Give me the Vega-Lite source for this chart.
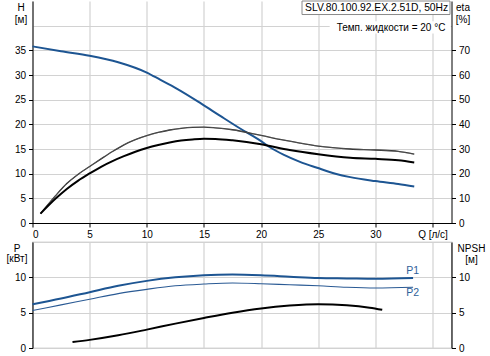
{
  "$schema": "https://vega.github.io/schema/vega-lite/v6.json",
  "padding": {"left": 4.5, "right": 0, "top": 0, "bottom": 0},
  "spacing": 19,
  "bounds": "flush",
  "background": "white",
  "config": {
    "view": {"stroke": null},
    "font": "Liberation Sans",
    "axis": {
      "labelFont": "Liberation Sans", "titleFont": "Liberation Sans",
      "labelFontSize": 10, "titleFontSize": 10, "titleFontWeight": "normal",
      "labelColor": "black", "titleColor": "black", "labelOverlap": false,
      "domainColor": "black", "tickColor": "black", "tickSize": 4,
      "gridColor": "#d2d2d2", "gridWidth": 1.2, "labelPadding": 3
    },
    "text": {"font": "Liberation Sans"}
  },
  "datasets": {
    "H": [
      {"q": 0, "h": 35.8}, {"q": 2.5, "h": 34.8}, {"q": 5, "h": 33.9}, {"q": 7.5, "h": 32.6},
      {"q": 10, "h": 30.5}, {"q": 11.2, "h": 29.0}, {"q": 12.5, "h": 27.4}, {"q": 14.7, "h": 24.3},
      {"q": 16.5, "h": 21.6}, {"q": 18.2, "h": 19.1}, {"q": 20, "h": 16.6}, {"q": 20.8, "h": 15.3},
      {"q": 22, "h": 13.8}, {"q": 23.4, "h": 12.4}, {"q": 24.9, "h": 11.2}, {"q": 26.5, "h": 10.0},
      {"q": 27.8, "h": 9.3}, {"q": 30, "h": 8.5}, {"q": 32, "h": 7.9}, {"q": 33.4, "h": 7.4}
    ],
    "etaThick": [
      {"q": 0.7, "eta": 3.8}, {"q": 2, "eta": 9.8}, {"q": 3, "eta": 13.8}, {"q": 4, "eta": 17.2},
      {"q": 5, "eta": 20.1}, {"q": 6, "eta": 22.8}, {"q": 7, "eta": 25.1}, {"q": 8, "eta": 27.1},
      {"q": 9, "eta": 28.9}, {"q": 10, "eta": 30.4}, {"q": 11, "eta": 31.6}, {"q": 12, "eta": 32.6},
      {"q": 13, "eta": 33.4}, {"q": 14, "eta": 33.9}, {"q": 15, "eta": 34.2}, {"q": 16, "eta": 34.1},
      {"q": 17.5, "eta": 33.5}, {"q": 20, "eta": 31.9}, {"q": 22.5, "eta": 29.6}, {"q": 25, "eta": 27.9},
      {"q": 27.8, "eta": 26.5}, {"q": 30, "eta": 26.0}, {"q": 32, "eta": 25.4}, {"q": 33.4, "eta": 24.5}
    ],
    "etaThin": [
      {"q": 0.7, "eta": 3.8}, {"q": 2, "eta": 11}, {"q": 3, "eta": 16}, {"q": 4, "eta": 19.8},
      {"q": 5, "eta": 22.9}, {"q": 6, "eta": 26}, {"q": 7, "eta": 29}, {"q": 8, "eta": 31.7},
      {"q": 9, "eta": 33.8}, {"q": 10, "eta": 35.4}, {"q": 11, "eta": 36.7}, {"q": 12, "eta": 37.7},
      {"q": 13, "eta": 38.4}, {"q": 14, "eta": 38.8}, {"q": 15, "eta": 38.9}, {"q": 16, "eta": 38.6},
      {"q": 17.5, "eta": 37.8}, {"q": 20, "eta": 35.5}, {"q": 22, "eta": 33.6}, {"q": 23.4, "eta": 32.4},
      {"q": 25, "eta": 31.2}, {"q": 27.8, "eta": 30.0}, {"q": 30, "eta": 29.6}, {"q": 32, "eta": 29.0},
      {"q": 33.4, "eta": 27.9}
    ],
    "P1": [
      {"q": 0, "p": 6.2}, {"q": 2.5, "p": 7.0}, {"q": 5, "p": 7.9}, {"q": 7.5, "p": 8.8},
      {"q": 10, "p": 9.5}, {"q": 12.5, "p": 10.0}, {"q": 15, "p": 10.3}, {"q": 17.5, "p": 10.4},
      {"q": 20, "p": 10.3}, {"q": 22.5, "p": 10.1}, {"q": 25, "p": 9.9}, {"q": 27.5, "p": 9.85},
      {"q": 30, "p": 9.8}, {"q": 33.3, "p": 9.9}
    ],
    "P2": [
      {"q": 0, "p": 5.3}, {"q": 2.5, "p": 6.1}, {"q": 5, "p": 6.9}, {"q": 7.5, "p": 7.7},
      {"q": 10, "p": 8.3}, {"q": 12.5, "p": 8.8}, {"q": 15, "p": 9.05}, {"q": 17.5, "p": 9.2},
      {"q": 20, "p": 9.1}, {"q": 22.5, "p": 8.95}, {"q": 25, "p": 8.8}, {"q": 27.5, "p": 8.6},
      {"q": 30, "p": 8.5}, {"q": 33.3, "p": 8.6}
    ],
    "NPSH": [
      {"q": 3.5, "n": 0.85}, {"q": 5, "n": 1.15}, {"q": 7.5, "n": 1.8}, {"q": 10, "n": 2.6},
      {"q": 12.5, "n": 3.45}, {"q": 15, "n": 4.25}, {"q": 17.5, "n": 5.0}, {"q": 20, "n": 5.6},
      {"q": 22.5, "n": 6.0}, {"q": 25, "n": 6.2}, {"q": 27.5, "n": 6.05}, {"q": 29.5, "n": 5.7},
      {"q": 30.6, "n": 5.4}
    ]
  },
  "vconcat": [
    {
      "width": 419,
      "height": 222,
      "layer": [
        {
          "data": {"name": "H"},
          "mark": {"type": "line", "color": "#1d5592", "strokeWidth": 2, "interpolate": "monotone"},
          "encoding": {
            "x": {"field": "q", "type": "quantitative", "scale": {"domain": [0, 36.66], "nice": false, "zero": false},
              "axis": {"values": [0, 5, 10, 15, 20, 25, 30, 35], "grid": true, "title": null, "labelPadding": 2,
                "labelExpr": "datum.value == 35 ? 'Q [л/с]' : datum.label"}},
            "y": {"field": "h", "type": "quantitative", "scale": {"domain": [0, 45], "nice": false},
              "axis": {"values": [0, 5, 10, 15, 20, 25, 30, 35, 40], "grid": true, "orient": "left",
                "labelExpr": "datum.value == 40 ? '' : datum.label",
                "tickOpacity": {"condition": {"test": "datum.value == 40", "value": 0}, "value": 1},
                "title": ["H", "[м]"], "titleAngle": 0, "titleAlign": "center", "titleBaseline": "top",
                "titleX": -12, "titleY": 1, "titleLineHeight": 12.5}}
          }
        },
        {
          "data": {"name": "etaThin"},
          "mark": {"type": "line", "color": "#1a1a1a", "strokeWidth": 1.3, "interpolate": "monotone"},
          "encoding": {
            "x": {"field": "q", "type": "quantitative", "title": null},
            "y": {"field": "eta", "type": "quantitative", "scale": {"domain": [0, 90], "nice": false},
              "axis": {"values": [0, 10, 20, 30, 40, 50, 60, 70, 80], "grid": false, "orient": "right",
                "labelExpr": "datum.value == 80 ? '' : datum.label",
                "tickOpacity": {"condition": {"test": "datum.value == 80", "value": 0}, "value": 1},
                "title": ["eta", "[%]"], "titleAngle": 0, "titleAlign": "center", "titleBaseline": "top",
                "titleX": 11, "titleY": 1, "titleLineHeight": 12.5}}
          }
        },
        {
          "data": {"name": "etaThin"},
          "mark": {"type": "line", "color": "#a0a0a0", "strokeWidth": 0.4, "interpolate": "monotone"},
          "encoding": {
            "x": {"field": "q", "type": "quantitative", "title": null},
            "y": {"field": "eta", "type": "quantitative", "scale": {"domain": [0, 90], "nice": false}, "axis": null}
          }
        },
        {
          "data": {"name": "etaThick"},
          "mark": {"type": "line", "color": "black", "strokeWidth": 2, "interpolate": "monotone"},
          "encoding": {
            "x": {"field": "q", "type": "quantitative", "title": null},
            "y": {"field": "eta", "type": "quantitative", "scale": {"domain": [0, 90], "nice": false}, "axis": null}
          }
        },
        {
          "data": {"values": [{"label": "Темп. жидкости = 20 °C"}]},
          "mark": {"type": "rect", "fill": "white"},
          "encoding": {
            "x": {"datum": 26.0, "type": "quantitative", "title": null},
            "x2": {"datum": 36.6},
            "y": {"datum": 40.9, "type": "quantitative", "scale": {"domain": [0, 45], "nice": false}, "axis": null},
            "y2": {"datum": 38.4}
          }
        },
        {
          "data": {"values": [{"label": "Темп. жидкости = 20 °C"}]},
          "mark": {"type": "text", "align": "right", "baseline": "middle", "fontSize": 10, "color": "black"},
          "encoding": {
            "x": {"datum": 36.13, "type": "quantitative", "title": null},
            "y": {"datum": 39.58, "type": "quantitative", "scale": {"domain": [0, 45], "nice": false}, "axis": null},
            "text": {"field": "label"}
          }
        },
        {
          "data": {"values": [{"label": "SLV.80.100.92.EX.2.51D, 50Hz"}]},
          "mark": {"type": "rect", "fill": "white", "stroke": "#8a8a8a", "strokeWidth": 1},
          "encoding": {
            "x": {"datum": 23.58, "type": "quantitative", "title": null},
            "x2": {"datum": 36.53},
            "y": {"datum": 45, "type": "quantitative", "scale": {"domain": [0, 45], "nice": false}, "axis": null},
            "y2": {"datum": 42.26}
          }
        },
        {
          "data": {"values": [{"label": "SLV.80.100.92.EX.2.51D, 50Hz"}]},
          "mark": {"type": "text", "align": "right", "baseline": "middle", "fontSize": 10.3, "color": "black"},
          "encoding": {
            "x": {"datum": 36.37, "type": "quantitative", "title": null},
            "y": {"datum": 43.64, "type": "quantitative", "scale": {"domain": [0, 45], "nice": false}, "axis": null},
            "text": {"field": "label"}
          }
        }
      ],
      "resolve": {"scale": {"y": "independent"}, "axis": {"y": "independent"}}
    },
    {
      "width": 419,
      "height": 106,
      "view": {"stroke": "#b0b0b0", "strokeWidth": 1.2},
      "layer": [
        {
          "data": {"name": "P2"},
          "mark": {"type": "line", "color": "#2a5a94", "strokeWidth": 1.1, "interpolate": "monotone"},
          "encoding": {
            "x": {"field": "q", "type": "quantitative", "scale": {"domain": [0, 36.66], "nice": false, "zero": false},
              "axis": {"values": [5, 10, 15, 20, 25, 30, 35], "grid": true, "labels": false, "ticks": false, "domain": false, "title": null}},
            "y": {"field": "p", "type": "quantitative", "scale": {"domain": [0, 15], "nice": false},
              "axis": {"values": [0, 5, 10, 15], "grid": true, "orient": "left",
                "labelExpr": "datum.value == 15 ? '' : datum.label",
                "tickOpacity": {"condition": {"test": "datum.value == 15", "value": 0}, "value": 1},
                "title": ["P", "[кВт]"], "titleAngle": 0, "titleAlign": "center", "titleBaseline": "top",
                "titleX": -16, "titleY": 1, "titleLineHeight": 10.5}}
          }
        },
        {
          "data": {"name": "NPSH"},
          "mark": {"type": "line", "color": "black", "strokeWidth": 2, "interpolate": "monotone"},
          "encoding": {
            "x": {"field": "q", "type": "quantitative", "title": null},
            "y": {"field": "n", "type": "quantitative", "scale": {"domain": [0, 15], "nice": false},
              "axis": {"values": [0, 5, 10, 15], "grid": false, "orient": "right",
                "labelExpr": "datum.value == 15 ? '' : datum.label",
                "tickOpacity": {"condition": {"test": "datum.value == 15", "value": 0}, "value": 1},
                "title": ["NPSH", "[м]"], "titleAngle": 0, "titleAlign": "center", "titleBaseline": "top",
                "titleX": 19.5, "titleY": 1, "titleLineHeight": 11}}
          }
        },
        {
          "data": {"name": "P1"},
          "mark": {"type": "line", "color": "#1d5592", "strokeWidth": 2, "interpolate": "monotone"},
          "encoding": {
            "x": {"field": "q", "type": "quantitative", "title": null},
            "y": {"field": "p", "type": "quantitative", "scale": {"domain": [0, 15], "nice": false}, "axis": null}
          }
        },
        {
          "data": {"values": [{"label": "P1", "p": 10.9}, {"label": "P2", "p": 7.78}]},
          "mark": {"type": "text", "align": "left", "baseline": "middle", "fontSize": 10.5, "color": "#2e6199"},
          "encoding": {
            "x": {"datum": 32.7, "type": "quantitative", "title": null},
            "y": {"field": "p", "type": "quantitative", "scale": {"domain": [0, 15], "nice": false}, "axis": null},
            "text": {"field": "label"}
          }
        }
      ],
      "resolve": {"scale": {"y": "independent"}, "axis": {"y": "independent"}}
    }
  ]
}
